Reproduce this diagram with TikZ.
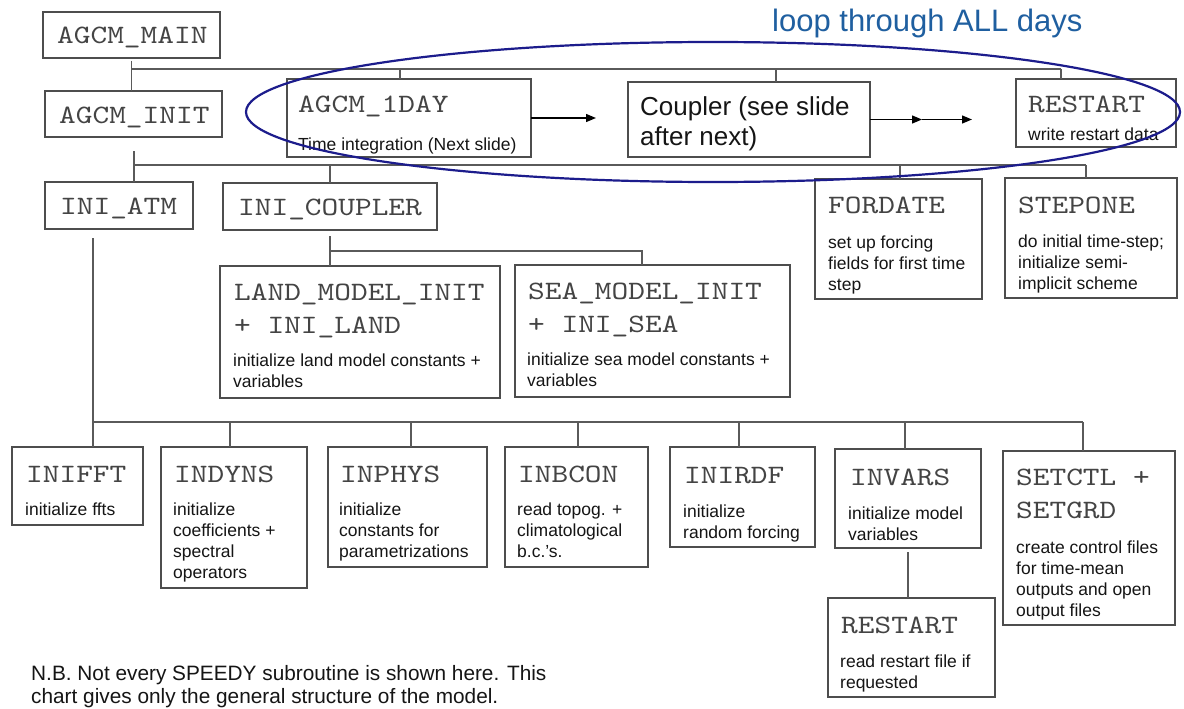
\documentclass[tikz,border=0pt]{standalone}
\usepackage{fontspec}
\setmainfont{Liberation Sans}
\newfontfamily\monof{lmmono10-regular.otf}[FakeStretch=1.2]
\usetikzlibrary{arrows.meta}
\definecolor{boxgray}{HTML}{4D4D4D}
\definecolor{linegray}{HTML}{5A5A5A}
\definecolor{titlegray}{HTML}{444444}
\definecolor{loopblue}{HTML}{1F5FA0}
\definecolor{ellblue}{HTML}{1C1C8C}
\definecolor{txtblack}{HTML}{151515}
\newcommand\mlines[1]{\begin{tabular}[t]{@{}l@{}}#1\end{tabular}}
\newcommand\bx[5]{\node[box, minimum width={(#4-#2)*1pt}, minimum height={(#5-#3)*1pt}] (#1) at (#2,#3) {};}
\tikzset{
  box/.style={draw=boxgray, line width=1.3pt, inner sep=0pt, outer sep=0pt, anchor=north west},
  conn/.style={draw=linegray, line width=1.3pt},
  arr/.style={draw=black, line width=1.3pt, -{Triangle[length=10pt,width=8pt]}},
  ttl/.style={anchor=base west, inner sep=0pt, text=titlegray, font=\monof\fontsize{26.5}{33}\selectfont},
  dsc/.style={anchor=base west, inner sep=0pt, text=txtblack, font=\fontsize{17.5}{21}\selectfont},
}
\begin{document}
\begin{tikzpicture}[x=1pt,y=-1pt]
\fill[white] (0,0) rectangle (1184,709);
\useasboundingbox (0,0) rectangle (1184,709);

% ---------- boxes ----------
\bx{main}{43}{12}{220}{58}
\bx{init}{45}{91}{222}{137}
\bx{oneday}{287}{79}{531}{157}
\bx{coupler}{628}{82}{870}{157}
\bx{restartA}{1016}{79}{1176}{147}
\bx{iniatm}{45}{182}{193}{229}
\bx{inicoupler}{223}{183}{437}{230}
\bx{fordate}{815}{179}{982}{299}
\bx{stepone}{1005}{178}{1177}{298}
\bx{land}{220}{266}{500}{398}
\bx{sea}{515}{265}{790}{397}
\bx{inifft}{12}{447}{143}{525}
\bx{indyns}{161}{447}{307}{588}
\bx{inphys}{328}{447}{487}{567}
\bx{inbcon}{505}{447}{648}{567}
\bx{inirdf}{670}{447}{815}{547}
\bx{invars}{835}{449}{981}{548}
\bx{setctl}{1003}{451}{1175}{625}
\bx{restartB}{828}{598}{995}{697}

% ---------- texts ----------
\node[ttl] (main-t) at (57,44) {AGCM\_MAIN};
\node[ttl] (init-t) at (59,123) {AGCM\_INIT};
\node[ttl] (oneday-t) at (298,113) {AGCM\_1DAY};
\node[dsc] (oneday-d) at (298,150) {Time integration (Next slide)};
\node[anchor=base west, inner sep=0pt, text=txtblack, font=\fontsize{26}{30}\selectfont] (coupler-t) at (640,115) {\mlines{Coupler (see slide\\after next)}};
\node[ttl] (restartA-t) at (1028,113) {RESTART};
\node[dsc] (restartA-d) at (1028,140) {write restart data};
\node[ttl] (iniatm-t) at (60,214) {INI\_ATM};
\node[ttl] (inicoupler-t) at (238,215) {INI\_COUPLER};
\node[ttl] (fordate-t) at (828,213) {FORDATE};
\node[dsc] (fordate-d) at (828,248) {\mlines{set up forcing\\fields for first time\\step}};
\node[ttl] (stepone-t) at (1018,213) {STEPONE};
\node[dsc] (stepone-d) at (1018,247) {\mlines{do initial time-step;\\initialize semi-\\implicit scheme}};
\node[ttl] (land-t) at (234,300) {\mlines{LAND\_MODEL\_INIT\\+ INI\_LAND}};
\node[dsc] (land-d) at (233,366) {\mlines{initialize land model constants +\\variables}};
\node[ttl] (sea-t) at (528,299) {\mlines{SEA\_MODEL\_INIT\\+ INI\_SEA}};
\node[dsc] (sea-d) at (527,365) {\mlines{initialize sea model constants +\\variables}};
\node[ttl] (inifft-t) at (26,482) {INIFFT};
\node[dsc] (inifft-d) at (25,515) {initialize ffts};
\node[ttl] (indyns-t) at (174,482) {INDYNS};
\node[dsc] (indyns-d) at (173,515) {\mlines{initialize\\coefficients +\\spectral\\operators}};
\node[ttl] (inphys-t) at (340,482) {INPHYS};
\node[dsc] (inphys-d) at (339,515) {\mlines{initialize\\constants for\\parametrizations}};
\node[ttl] (inbcon-t) at (518,482) {INBCON};
\node[dsc] (inbcon-d) at (517,515) {\mlines{read topog. +\\climatological\\b.c.'s.}};
\node[ttl] (inirdf-t) at (684,483) {INIRDF};
\node[dsc] (inirdf-d) at (683,517) {\mlines{initialize\\random forcing}};
\node[ttl] (invars-t) at (850,485) {INVARS};
\node[dsc] (invars-d) at (848,519) {\mlines{initialize model\\variables}};
\node[ttl] (setctl-t) at (1016,485) {\mlines{SETCTL +\\SETGRD}};
\node[dsc] (setctl-d) at (1016,553) {\mlines{create control files\\for time-mean\\outputs and open\\output files}};
\node[ttl] (restartB-t) at (841,633) {RESTART};
\node[dsc] (restartB-d) at (840,667) {\mlines{read restart file if\\requested}};

\node[anchor=base west, inner sep=0pt, text=txtblack, font=\fontsize{20.8}{23.5}\selectfont] (nb) at (31,680) {\mlines{N.B. Not every SPEEDY subroutine is shown here. This\\chart gives only the general structure of the model.}};
\node[anchor=base west, inner sep=0pt, text=loopblue, font=\fontsize{31}{36}\selectfont] (loop) at (772,32) {loop through ALL days};

% ---------- connectors ----------
\coordinate (b1w) at (131.5,69);
\coordinate (b1e) at (1061,69);
\coordinate (t1) at (400,69);
\coordinate (t2) at (776,69);
\draw[conn] ([yshift=-3pt]main.south) -- (main.south |- init.north);
\draw[conn] (b1w) -- (b1e);
\draw[conn] (t1) -- (t1 |- oneday.north);
\draw[conn] (t2) -- (t2 |- coupler.north);
\draw[conn] (b1e) -- (b1e |- restartA.north);

\coordinate (a1end) at (596,118);
\coordinate (a2mid) at (922,119.5);
\coordinate (a2end) at (972,119.5);
\draw[arr] (oneday.east) -- (a1end);
\draw[arr] (coupler.east) -- (a2mid);
\draw[arr] (a2mid) -- (a2end);

\coordinate (b2w) at (134,165);
\coordinate (b2e) at (1086,165);
\coordinate (t3) at (330,165);
\coordinate (t4) at (900,165);
\draw[conn] (134,151) -- (b2w |- iniatm.north);
\draw[conn] (b2w) -- (b2e);
\draw[conn] (t3) -- (t3 |- inicoupler.north);
\draw[conn] (t4) -- (t4 |- fordate.north);
\draw[conn] (b2e) -- (b2e |- stepone.north);

\coordinate (b3w) at (330,251);
\coordinate (b3e) at (642,251);
\draw[conn] ([yshift=-6pt]inicoupler.south) -- (inicoupler.south |- land.north);
\draw[conn] (b3w) -- (b3e) -- (b3e |- sea.north);

\coordinate (b4top) at (93,238);
\coordinate (b4w) at (93,422);
\coordinate (b4e) at (1083,422);
\draw[conn] (b4top) -- (b4w) -- (b4e);
\foreach \xx/\nn in {93/inifft,230/indyns,411/inphys,578/inbcon,739/inirdf,905/invars,1083/setctl}{
  \draw[conn] (\xx,422) -- (\xx,422 |- \nn.north);
}
\draw[conn] ([yshift=-4pt]invars.south) -- (invars.south |- restartB.north);

% ---------- loop ellipse ----------
\draw[ellblue, line width=2.2pt] (713,112) ellipse [x radius=467, y radius=70];
\end{tikzpicture}
\end{document}
